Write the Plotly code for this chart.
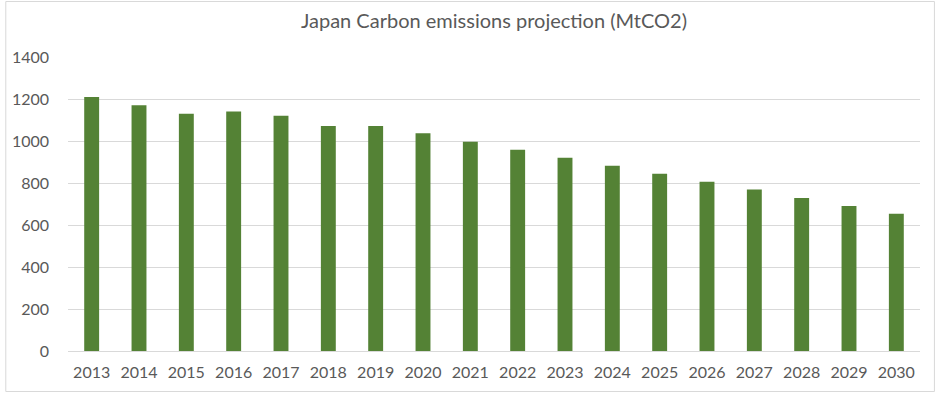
import plotly.graph_objects as go

years = [str(y) for y in range(2013, 2031)]
emissions = [1210, 1170, 1130, 1140, 1120, 1072, 1072, 1037, 996, 958, 920, 882, 844, 806, 769, 729, 691, 653]
y_ticks = [0, 200, 400, 600, 800, 1000, 1200, 1400]
title_text = "Japan Carbon emissions projection (MtCO2)"

W, H = 936, 396
ml, mr, mt, mb = 64, 16, 57, 45
pw, ph = W - ml - mr, H - mt - mb

fig = go.Figure(go.Bar(x=years, y=emissions, marker=dict(color="#548235", line=dict(width=0))))

font_family = "Lato, 'Noto Sans', sans-serif"
fig.update_layout(
    width=W, height=H,
    margin=dict(l=ml, r=mr, t=mt, b=mb),
    paper_bgcolor="white", plot_bgcolor="white",
    bargap=0.685,
    showlegend=False,
    title=dict(text=title_text, x=0.5, xanchor="center", y=1 - 21 / H, yanchor="middle",
               xref="paper", yref="container",
               font=dict(family=font_family, size=20, color="#595959")),
    font=dict(family=font_family, color="#595959"),
    xaxis=dict(type="category", showgrid=False, showline=True, linecolor="#d9d9d9", linewidth=1,
               ticks="", tickfont=dict(size=16, color="#595959"), ticklabelstandoff=7),
    yaxis=dict(range=[0, 1400], tickvals=y_ticks, showgrid=True, gridcolor="#d9d9d9", gridwidth=1,
               zeroline=False, showline=False, ticks="",
               tickfont=dict(size=16, color="#595959"), ticklabelstandoff=18),
    shapes=[dict(type="rect", xref="paper", yref="paper",
                 x0=(1.5 - ml) / pw, x1=(W - 1.5 - ml) / pw,
                 y0=-(mb - 4.5) / ph, y1=(ph + mt - 1.5) / ph,
                 line=dict(color="#d9d9d9", width=1), fillcolor="rgba(0,0,0,0)", layer="below")],
)

fig.write_html("out.html", config={"displayModeBar": False},
               post_script="document.body.style.margin='0';document.body.style.overflow='hidden';")
